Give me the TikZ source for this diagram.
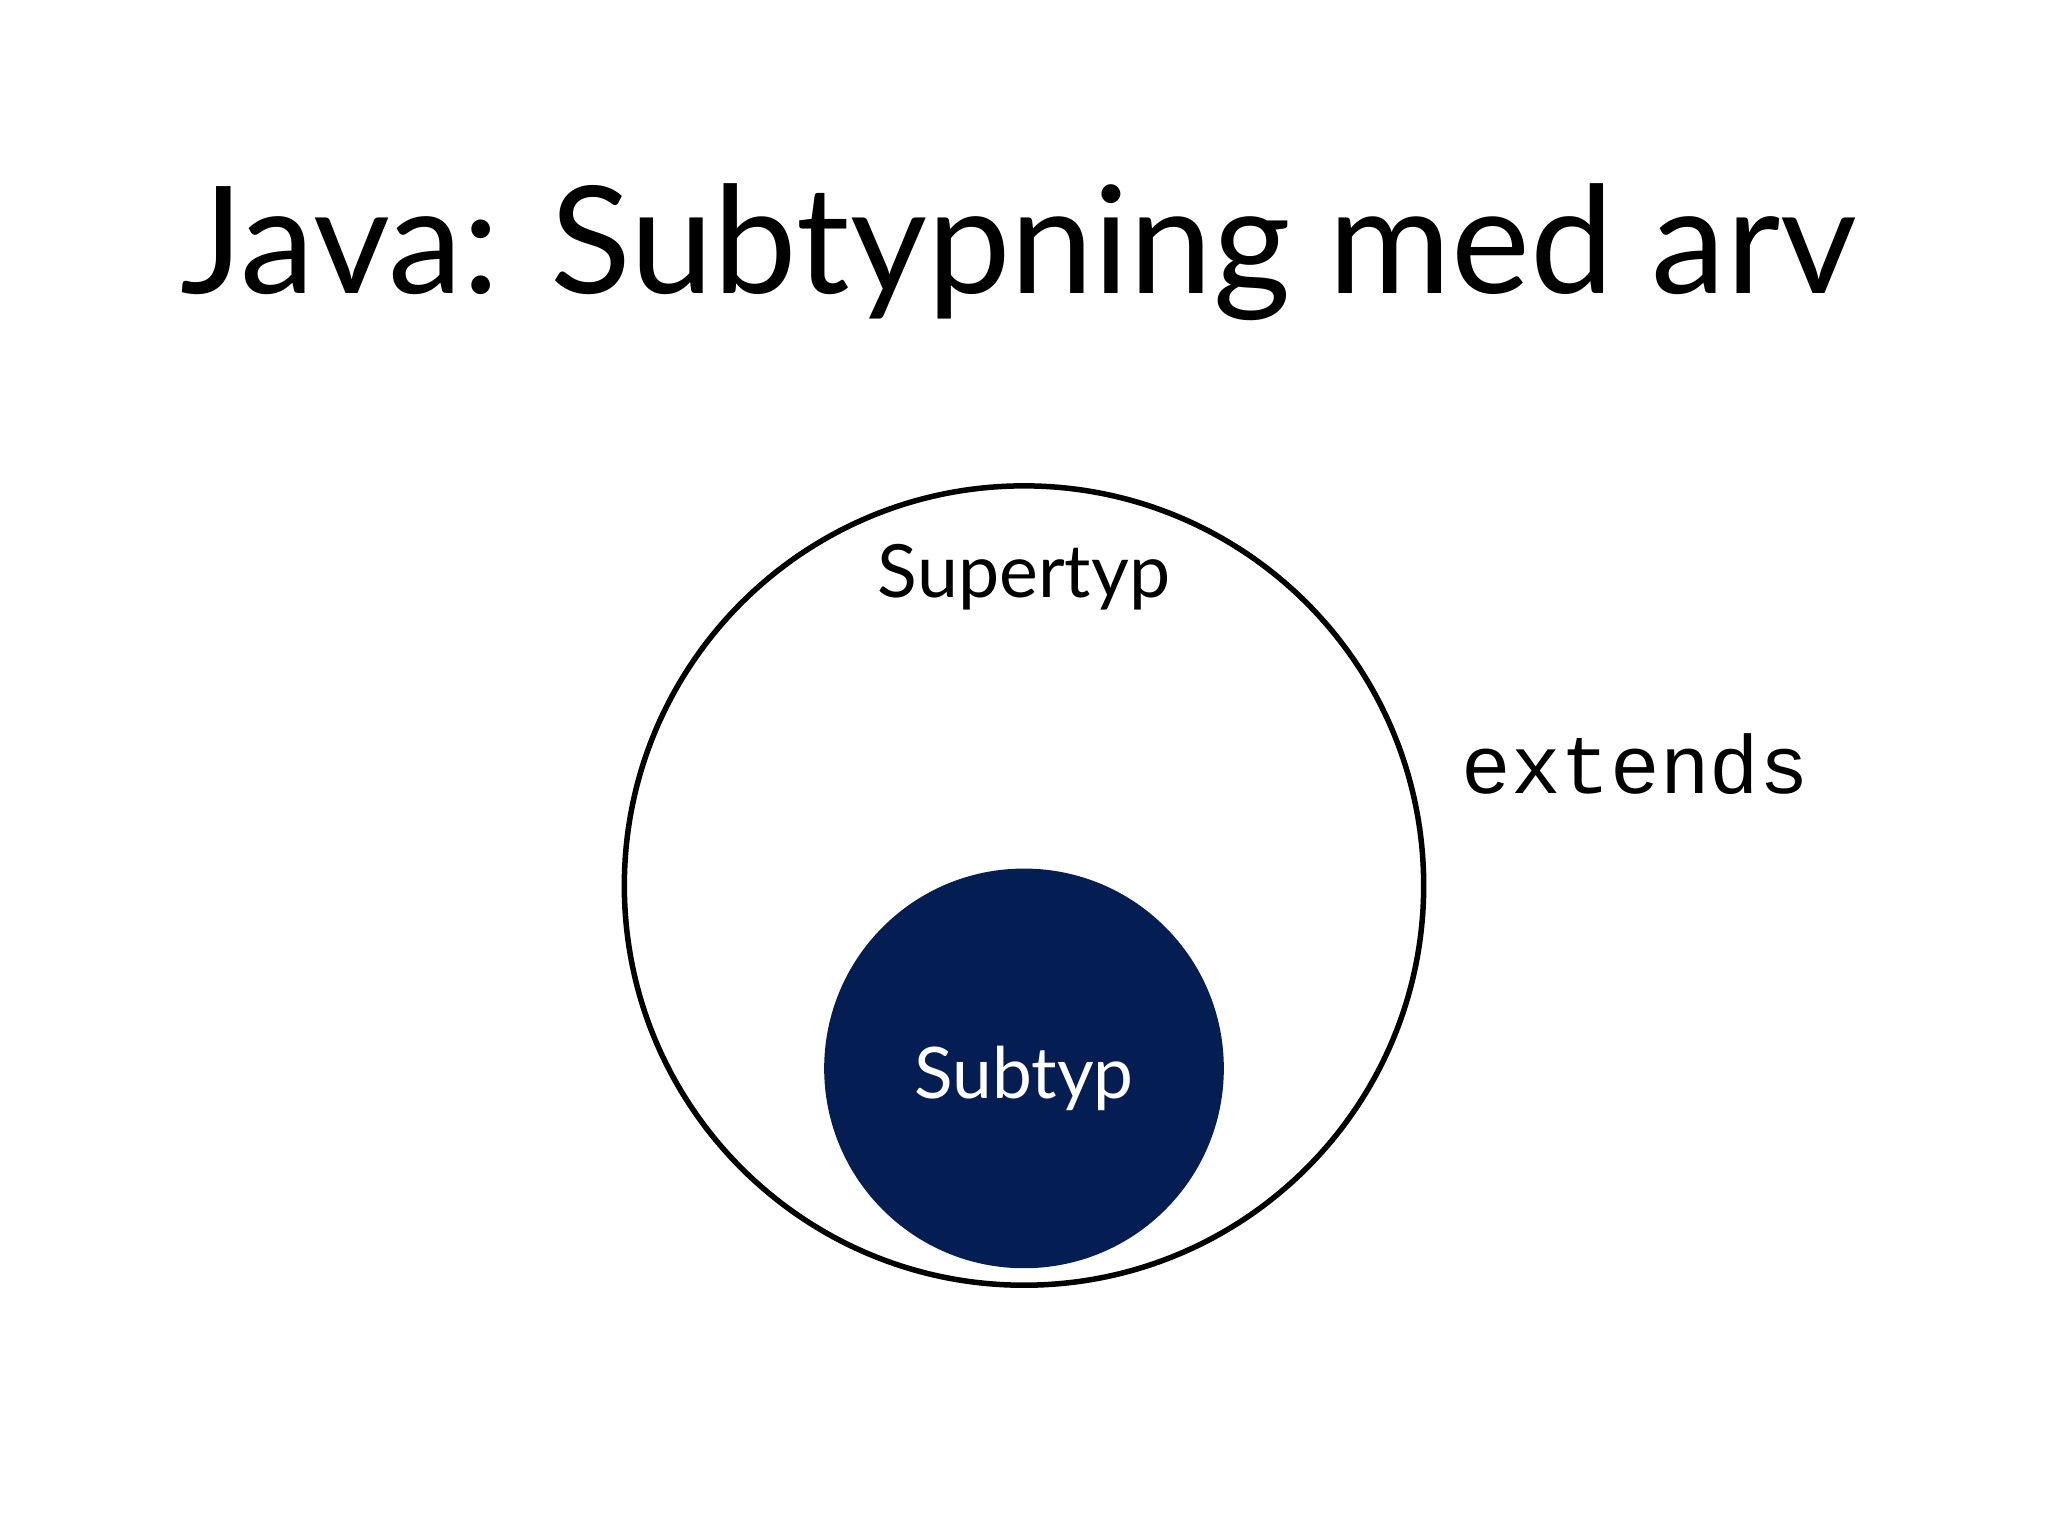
\documentclass[tikz,border=0pt]{standalone}
\usepackage{fontspec}
\setmainfont{Lato}
\newfontfamily\codefont{Liberation Mono}
\definecolor{subblue}{HTML}{041E54}
\begin{document}
\begin{tikzpicture}[x=1cm,y=-1cm,
  lbl/.style={inner sep=0pt,font=\fontsize{16}{19}\selectfont}]
\useasboundingbox (0,0) rectangle (15.68,11.76);
\node[inner sep=0pt,font=\fontsize{32.5}{39}\selectfont] (title) at (7.80,1.93) {Java: Subtypning med arv};
\node[circle,draw=black,line width=1.2pt,minimum size=6.12cm,inner sep=0pt] (super) at (7.84,6.78) {};
\node[circle,fill=subblue,minimum size=3.06cm,inner sep=0pt] (sub) at (7.84,8.18) {};
\node[lbl] (superl) at (7.84,4.42) {Supertyp};
\node[lbl,text=white,font=\fontsize{15.5}{18}\selectfont] (subl) at (7.84,8.26) {Subtyp};
\node[inner sep=0pt,font=\codefont\fontsize{18}{22}\selectfont] (ext) at (12.52,5.85) {extends};
\end{tikzpicture}
\end{document}
